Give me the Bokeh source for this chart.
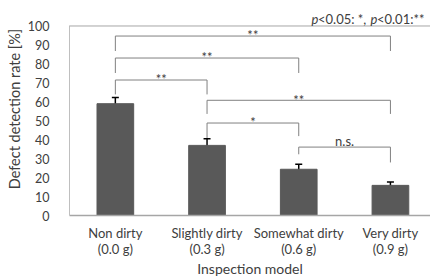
from bokeh.plotting import figure
from bokeh.models import Range1d, FixedTicker, Whisker, ColumnDataSource, TeeHead, Label, Span, Title
from bokeh.embed import file_html
from bokeh.resources import INLINE

categories = ["Non dirty\n(0.0 g)", "Slightly dirty\n(0.3 g)", "Somewhat dirty\n(0.6 g)", "Very dirty\n(0.9 g)"]
rates = [59.0, 37.0, 24.4, 15.9]
errors = [3.3, 3.5, 2.7, 1.8]

bracket_from = [0, 0, 0, 1, 1, 2]
bracket_to = [3, 2, 1, 3, 2, 3]
bracket_top = [94.7, 83.1, 71.5, 60.8, 48.8, 36.1]
bracket_left_end = [86.8, 75.2, 63.9, 53.6, 40.9, 32.3]
bracket_right_end = [86.8, 75.2, 63.9, 53.6, 41.9, 28.0]
bracket_labels = ["**", "**", "**", "**", "*", "n.s."]

y_ticks = list(range(0, 101, 10))

FONT = "Lato"
TXT = "#404040"

xpos = [i + 0.5 for i in range(len(categories))]

p = figure(width=430, height=280, output_backend="svg", toolbar_location=None,
           x_range=Range1d(0, 3.937), y_range=Range1d(0, 112.4),
           min_border_left=69, min_border_right=0, min_border_top=2, min_border_bottom=65)
p.outline_line_color = None
p.grid.visible = False
p.background_fill_color = "white"

# plot-area top line
p.add_layout(Span(location=100, dimension="width", line_color="#a6a6a6", line_width=1))

src = ColumnDataSource(dict(x=xpos, top=rates, up=[r + e for r, e in zip(rates, errors)],
                            lo=[r - e for r, e in zip(rates, errors)]))
p.vbar(x="x", top="top", width=0.4, source=src, fill_color="#595959", line_color="#595959")
p.add_layout(Whisker(base="x", upper="up", lower="lo", source=src, line_color="black", line_width=1.5,
                     upper_head=TeeHead(size=7, line_color="black", line_width=1.5),
                     lower_head=TeeHead(size=7, line_color="black", line_width=1.5)))

# significance brackets
xs, ys, lx, ly = [], [], [], []
for a, b, t, le, re, lab in zip(bracket_from, bracket_to, bracket_top, bracket_left_end, bracket_right_end, bracket_labels):
    xa, xb = xpos[a], xpos[b]
    xs.append([xa, xa, xb, xb])
    ys.append([le, t, t, re])
    lx.append((xa + xb) / 2)
    ly.append(t + (3.0 if lab == "n.s." else 0.4))
p.multi_line(xs=xs, ys=ys, line_color="#808080", line_width=1)
p.text(x=lx, y=ly, text=bracket_labels, text_align="center", text_baseline="alphabetic",
       text_font={"value": FONT}, text_font_size="13px", text_color=TXT)

# axes
p.yaxis.ticker = FixedTicker(ticks=y_ticks)
p.yaxis.bounds = (0, 100)
p.yaxis.major_tick_line_color = None
p.yaxis.minor_tick_line_color = None
p.yaxis.axis_line_color = "#bfbfbf"
p.yaxis.major_label_standoff = 14
p.yaxis.major_label_text_font = FONT
p.yaxis.major_label_text_font_size = "12.5px"
p.yaxis.major_label_text_color = TXT

# y-axis title, centred on the 0-100 part of the plot area
p.add_layout(Title(text="Defect detection rate [%]", align="center", offset=-27, standoff=0,
                   vertical_align="top",
                   text_font=FONT, text_font_style="normal", text_font_size="14.5px", text_color=TXT), "left")

p.xaxis.ticker = FixedTicker(ticks=xpos)
p.xaxis.major_label_overrides = {x: c for x, c in zip(xpos, categories)}
p.xaxis.major_tick_line_color = None
p.xaxis.minor_tick_line_color = None
p.xaxis.axis_line_color = "#a6a6a6"
p.xaxis.axis_line_width = 1.5
p.xaxis.major_label_standoff = 3
p.xaxis.major_label_text_font = FONT
p.xaxis.major_label_text_font_size = "13px"
p.xaxis.major_label_text_line_height = 1.0
p.xaxis.major_label_text_color = TXT
p.xaxis.axis_label = "Inspection model"
p.xaxis.axis_label_text_font = FONT
p.xaxis.axis_label_text_font_style = "normal"
p.xaxis.axis_label_text_font_size = "14px"
p.xaxis.axis_label_text_color = TXT
p.xaxis.axis_label_standoff = 0

# significance legend (top right)
legend_parts = [("p", "italic", 2.639), ("<0.05: *, ", "normal", 2.710), ("p", "italic", 3.282), ("<0.01:**", "normal", 3.353)]
for txt, style, x in legend_parts:
    p.add_layout(Label(x=x, y=103.8, text=txt, text_font=FONT, text_font_style=style,
                       text_font_size="13px", text_color=TXT, text_baseline="alphabetic"))

open("out.html", "w").write(file_html(p, INLINE))
